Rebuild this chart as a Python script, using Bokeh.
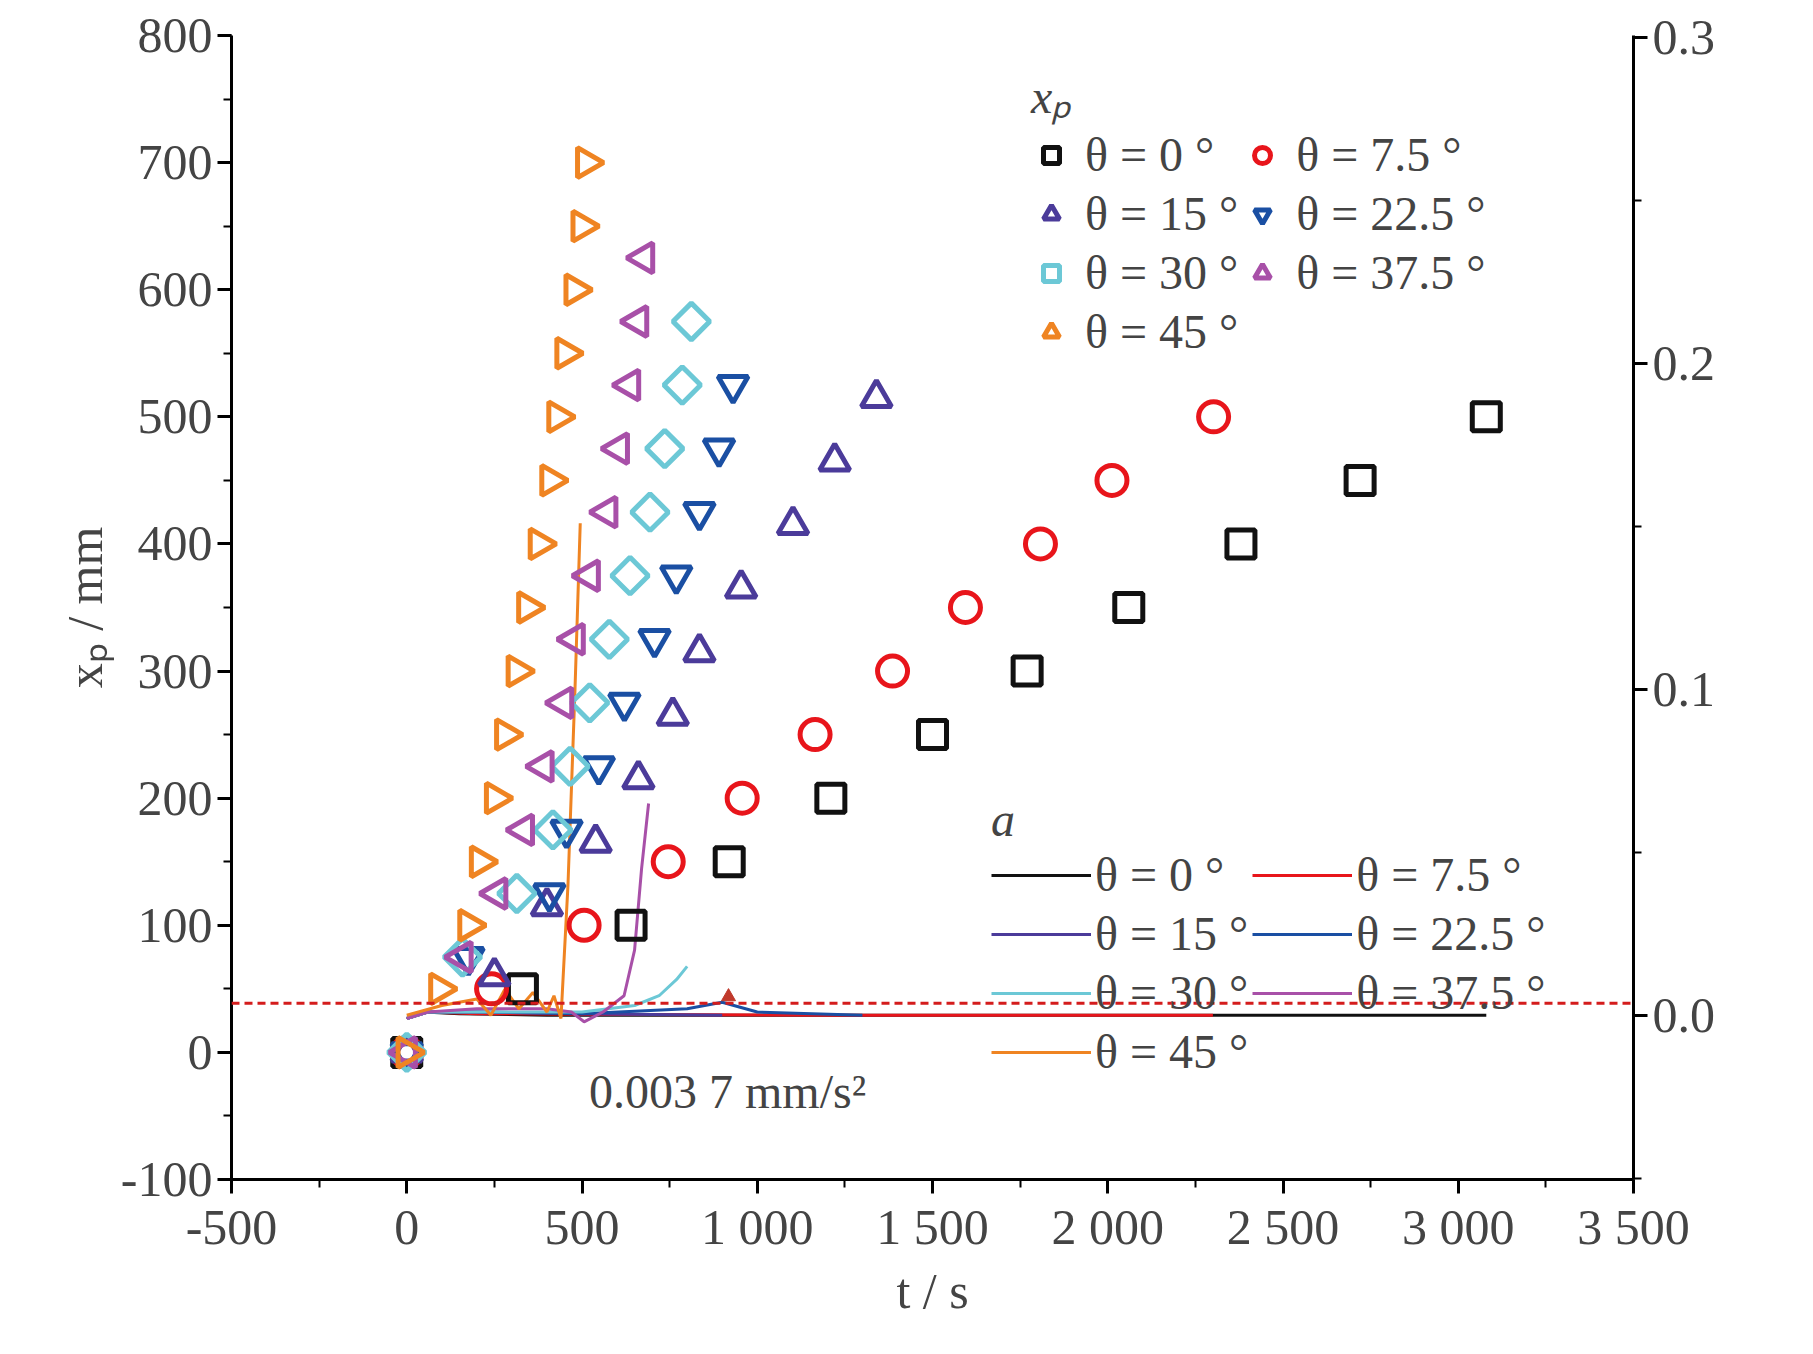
from bokeh.plotting import figure
from bokeh.models import Range1d, LinearAxis, Legend, LegendItem, Label, Span, FixedTicker
from bokeh.embed import file_html
from bokeh.resources import INLINE

FONT = "Liberation Serif"
# x_p data (t in s, x_p in mm)
t0 = [0, 330, 640, 920, 1210, 1500, 1770, 2060, 2380, 2720, 3080]
x0 = [0, 50, 100, 150, 200, 250, 300, 350, 400, 450, 500]
t75 = [0, 242, 506, 746, 957, 1165, 1386, 1594, 1808, 2012, 2302]
x75 = [0, 50, 100, 150, 200, 250, 300, 350, 400, 450, 500]
t15 = [0, 250, 400, 539, 661, 759, 835, 954, 1102, 1221, 1340]
x15 = [0, 60, 115, 165, 215, 265, 315, 365, 415, 465, 515]
t225 = [0, 176, 407, 456, 548, 621, 707, 769, 835, 891, 931]
x225 = [0, 75, 125, 175, 225, 275, 325, 375, 425, 475, 525]
t30 = [0, 159, 314, 417, 466, 522, 578, 637, 694, 736, 786, 812]
x30 = [0, 75, 125, 175, 225, 275, 325, 375, 425, 475, 525, 575]
t375 = [0, 159, 258, 334, 390, 446, 479, 522, 572, 605, 637, 660, 677]
x375 = [0, 75, 125, 175, 225, 275, 325, 375, 425, 475, 525, 575, 625]
t45 = [0, 93, 176, 209, 252, 281, 314, 344, 377, 410, 430, 453, 479, 499, 512]
x45 = [0, 50, 100, 150, 200, 250, 300, 350, 400, 450, 500, 550, 600, 650, 700]

# acceleration data (t in s, a in mm/s^2)
ta0 = [0, 50, 150, 400, 1000, 3080]; a0 = [-0.001, 0.001, 0.0005, 0.0, 0.0, 0.0]
ta75 = [0, 60, 200, 500, 1200, 2300]; a75 = [-0.001, 0.001, 0.0005, 0.0003, 0.0, 0.0]
ta15 = [0, 60, 200, 500, 900]; a15 = [-0.001, 0.001, 0.001, 0.0005, 0.0]
ta225 = [0, 60, 200, 500, 800, 900, 1000, 1300]; a225 = [-0.001, 0.001, 0.001, 0.0005, 0.002, 0.004, 0.001, 0.0]
ta30 = [0, 60, 200, 500, 650, 720, 770, 800]; a30 = [-0.001, 0.001, 0.001, 0.001, 0.003, 0.006, 0.011, 0.015]
ta375 = [0, 60, 200, 400, 470, 506, 560, 620, 650, 670, 690]; a375 = [-0.001, 0.001, 0.002, 0.002, 0.001, -0.002, 0.001, 0.006, 0.02, 0.045, 0.065]
ta45 = [0, 100, 200, 240, 280, 320, 360, 400, 420, 440, 460, 480, 495]; a45 = [0, 0.003, 0.005, 0.0, 0.008, 0.002, 0.007, 0.001, 0.006, -0.001, 0.04, 0.1, 0.151]
a_thresh = 0.0037
t_mark = [918]; a_mark = [0.0057]

p = figure(width=1800, height=1340, output_backend="svg", toolbar_location=None,
           x_range=Range1d(-500, 3500), y_range=Range1d(-100, 800),
           min_border_left=231, min_border_right=167, min_border_top=35, min_border_bottom=161)
p.extra_y_ranges = {"a": Range1d(-0.0504, 0.3007)}
p.grid.visible = False
p.outline_line_color = None
p.background_fill_color = "white"

cols = {"0": "#111111", "7.5": "#e8151b", "15": "#4b3b9a", "22.5": "#1a4fa3",
        "30": "#6cc8d6", "37.5": "#a850a8", "45": "#ef8422"}

la = {}
for ta, aa, k in [(ta0, a0, "0"), (ta75, a75, "7.5"), (ta15, a15, "15"), (ta225, a225, "22.5"),
                  (ta30, a30, "30"), (ta375, a375, "37.5"), (ta45, a45, "45")]:
    la[k] = p.line(ta, aa, y_range_name="a", line_color=cols[k], line_width=3)
p.scatter(t_mark, a_mark, y_range_name="a", marker="triangle", size=14, color="#c0392b")
p.add_layout(Span(location=a_thresh, dimension="width", y_range_name="a",
                  line_color="#d41c1c", line_dash="8 5", line_width=3))

lx = {}
for t, x, k, m, ang, sz in [(t0, x0, "0", "square", 0, 28), (t75, x75, "7.5", "circle", 0, 30),
                            (t15, x15, "15", "triangle", 0, 30), (t225, x225, "22.5", "inverted_triangle", 0, 30),
                            (t30, x30, "30", "square", 0.7854, 26), (t375, x375, "37.5", "triangle", 1.5708, 30),
                            (t45, x45, "45", "triangle", -1.5708, 30)]:
    lx[k] = p.scatter(t, x, marker=m, size=sz, angle=ang, fill_color=None, line_color=cols[k], line_width=5)

order = ["0", "15", "30", "45", "7.5", "22.5", "37.5"]

def lab(k):
    return "θ = " + k + " °"

common = dict(nrows=4, label_text_font=FONT, label_text_font_size="48px",
              title_text_font=FONT, title_text_font_size="48px", title_text_font_style="italic",
              background_fill_alpha=0, border_line_color=None, glyph_height=50,
              label_height=50, spacing=4, title_standoff=0)
leg1 = Legend(items=[LegendItem(label=lab(k), renderers=[lx[k]]) for k in order],
              location=(800, 820), title="xₚ", glyph_width=40, label_standoff=14, **common)
leg2 = Legend(items=[LegendItem(label=lab(k), renderers=[la[k]]) for k in order],
              location=(760, 100), title="a", glyph_width=100, label_standoff=4, **common)
p.add_layout(leg1, "center")
p.add_layout(leg2, "center")

p.add_layout(Label(x=520, y=-52, text="0.003 7 mm/s²", text_font=FONT, text_font_size="48px"))

for ax in [p.xaxis[0], p.yaxis[0]]:
    ax.major_label_text_font = FONT
    ax.major_label_text_font_size = "50px"
    ax.axis_label_text_font = FONT
    ax.axis_label_text_font_size = "50px"
    ax.axis_label_text_font_style = "normal"
    ax.axis_line_width = 3
    ax.major_tick_line_width = 3
    ax.minor_tick_line_width = 2
    ax.major_tick_out = 14
    ax.minor_tick_out = 8
    ax.minor_tick_in = 0
    ax.major_tick_in = 0
p.xaxis.ticker = FixedTicker(ticks=list(range(-500, 3501, 500)), minor_ticks=list(range(-500, 3501, 250)))
p.xaxis.major_label_overrides = {v: (f"{v:,}".replace(",", " ")) for v in range(-500, 3501, 500)}
p.yaxis.ticker = FixedTicker(ticks=list(range(-100, 801, 100)), minor_ticks=list(range(-100, 801, 50)))
p.yaxis.major_label_overrides = {-100: "-100"}
p.xaxis.axis_label = "t / s"
p.yaxis.axis_label = "xₚ / mm"

ra = LinearAxis(y_range_name="a",
                ticker=FixedTicker(ticks=[0.0, 0.1, 0.2, 0.3], minor_ticks=[-0.05, 0.05, 0.15, 0.25]))
ra.major_label_text_font = FONT
ra.major_label_text_font_size = "50px"
ra.axis_line_width = 3
ra.major_tick_line_width = 3
ra.minor_tick_line_width = 2
ra.major_tick_out = 14
ra.minor_tick_out = 8
ra.major_tick_in = 0
ra.minor_tick_in = 0
ra.major_label_overrides = {0.0: "0.0", 0.1: "0.1", 0.2: "0.2", 0.3: "0.3"}
p.add_layout(ra, "right")
p.add_layout(Label(x=1795, y=820, x_units="screen", y_units="screen", text="a/ (mm/s²)", angle=1.5708,
                   text_font=FONT, text_font_size="50px", text_baseline="bottom", text_align="center"))

open("out.html", "w").write(file_html(p, INLINE))
